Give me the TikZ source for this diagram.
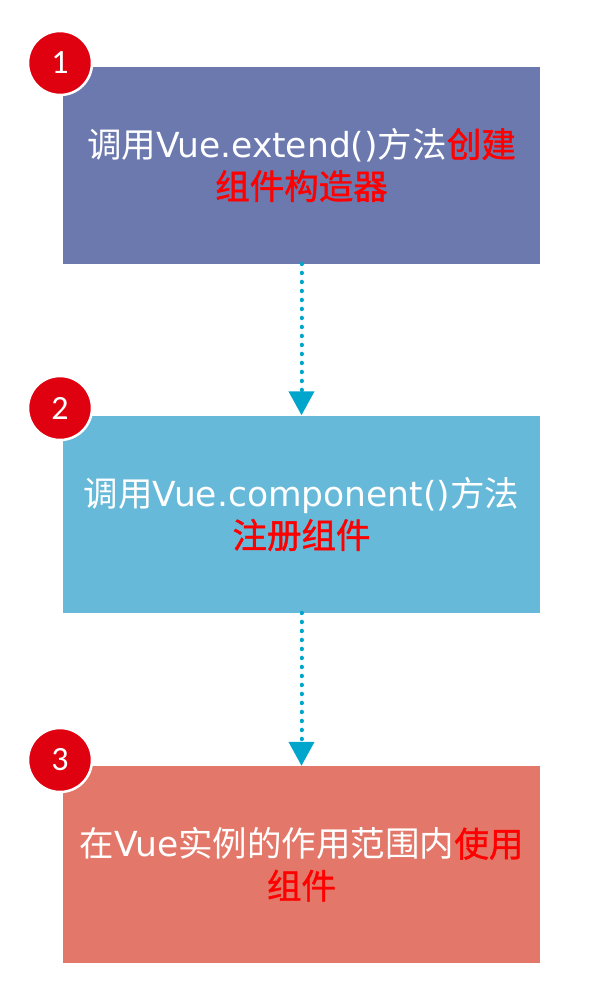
\documentclass[tikz,border=0pt]{standalone}
\usepackage{fontspec}
\setmainfont{Noto Sans CJK SC}
\newfontfamily\numfont{Carlito}
\newfontfamily\latfont{DejaVu Sans}
\newfontfamily\hifont[FakeBold=1.2]{Noto Sans CJK SC}
\newcommand{\lat}[1]{{\latfont #1}}
\newcommand{\hi}[1]{\textcolor{hl}{\hifont #1}}
\usetikzlibrary{arrows.meta}
\definecolor{stepA}{HTML}{6C79AE}
\definecolor{stepB}{HTML}{66B9D8}
\definecolor{stepC}{HTML}{E3786A}
\definecolor{badge}{HTML}{DF0010}
\definecolor{flow}{HTML}{00A5CC}
\definecolor{hl}{HTML}{FF0000}
\begin{document}
\begin{tikzpicture}[x=1pt,y=-1pt,
  stepbox/.style={minimum width=477pt,minimum height=197pt,inner sep=0pt,
    text=white,align=center,font=\fontsize{34.5}{42}\selectfont},
  badgecirc/.style={circle,fill=badge,draw=white,line width=2.5pt,
    minimum size=64pt,inner sep=0pt,text=white,font=\numfont\fontsize{34}{34}\selectfont},
  flowline/.style={flow,line width=4pt,line cap=round,dash pattern=on 0.5pt off 8.5pt,
    -{Triangle[width=25pt,length=24pt,line cap=butt]}}]
\useasboundingbox (0,0) rectangle (600,1004);
\node[stepbox,fill=stepA] (s1) at (301.5,165) {调用\lat{Vue.extend()}方法\hi{创建}\\\hi{组件构造器}};
\node[stepbox,fill=stepB] (s2) at (301.5,514) {调用\lat{Vue.component()}方法\\\hi{注册组件}};
\node[stepbox,fill=stepC] (s3) at (301.5,864.5) {在\lat{Vue}实例的作用范围内\hi{使用}\\\hi{组件}};
\node[badgecirc] (b1) at (60,63) {1};
\node[badgecirc] (b2) at (60,408) {2};
\node[badgecirc] (b3) at (60,760) {3};
\draw[flowline] (s1.south) -- (s2.north);
\draw[flowline] (s2.south) -- (s3.north);
\end{tikzpicture}
\end{document}
